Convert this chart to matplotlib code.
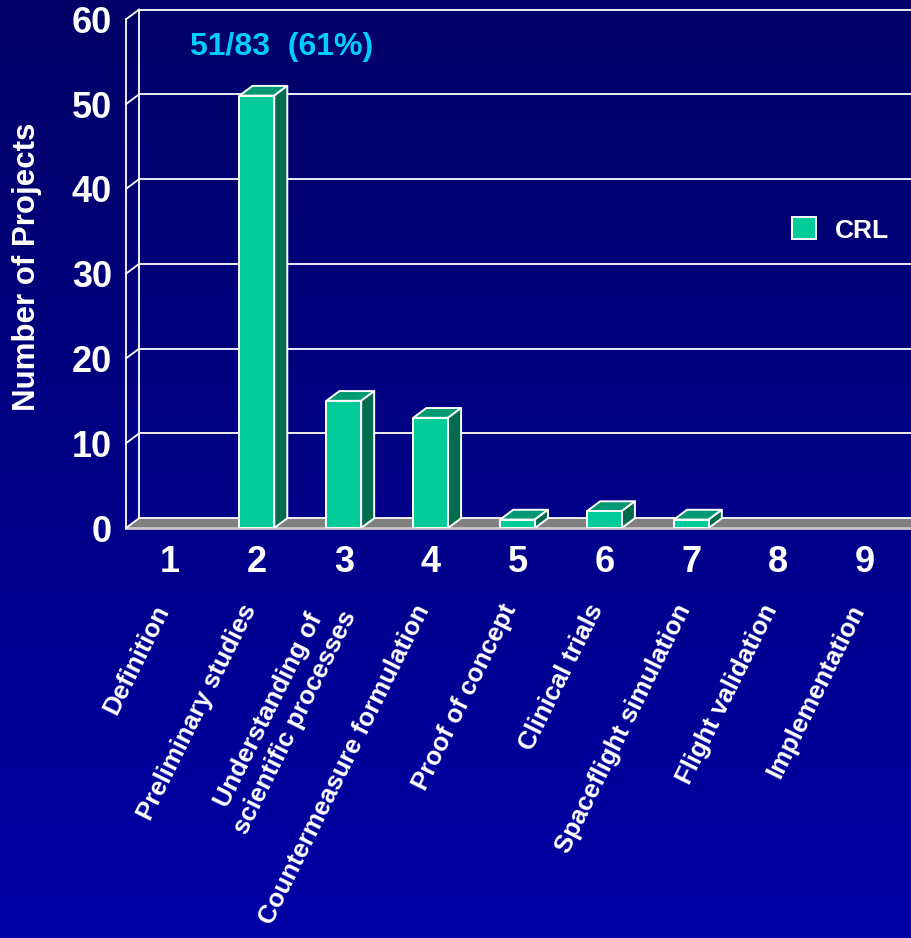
import matplotlib
matplotlib.use("Agg")

import matplotlib.pyplot as plt
import matplotlib.transforms as mtransforms
from matplotlib.patches import Polygon, Patch
import numpy as np

plt.rcParams['font.family'] = ['Liberation Sans', 'DejaVu Sans']
plt.rcParams['font.weight'] = 'bold'

# project counts per readiness level
levels = [1, 2, 3, 4, 5, 6, 7, 8, 9]
counts = [0, 51, 15, 13, 1, 2, 1, 0, 0]
level_names = ["Definition", "Preliminary studies",
               "Understanding of\nscientific processes",
               "Countermeasure formulation", "Proof of concept",
               "Clinical trials", "Spaceflight simulation",
               "Flight validation", "Implementation"]
yticks = [0, 10, 20, 30, 40, 50, 60]
note = "51/83  (61%)"
series = "CRL"

FRONT = "#00CC99"
TOP = "#009973"
SIDE = "#006B4D"
W, H = 911, 938

fig = plt.figure(figsize=(W / 100, H / 100), dpi=100)

# background gradient, dark navy at the top fading to brighter blue
bg = fig.add_axes([0, 0, 1, 1], zorder=-10)
grad = np.linspace(0, 1, 256).reshape(-1, 1)
cols = np.zeros((256, 1, 3))
cols[..., 2] = 0.40 + 0.25 * grad
bg.imshow(cols, aspect="auto", extent=[0, 1, 0, 1], origin="upper")
bg.axis("off")

ax = fig.add_axes([126 / W, (H - 528) / H, (W - 126) / W, 518 / H])
ax.patch.set_alpha(0)
x0, x1 = 0.494, 9.527
ax.set_xlim(x0, x1)
ax.set_ylim(0, 61.1)
for s in ax.spines.values():
    s.set_visible(False)

dx, dy = 0.15, 1.15   # depth offset of the 3d walls and bars
bw = 0.40

# floor
ax.add_patch(Polygon([(x0, 0), (x1, 0), (x1 + dx, dy), (x0 + dx, dy)],
                     closed=True, facecolor="#808080", edgecolor="none",
                     zorder=1, clip_on=False))
ax.plot([x0, x1], [0, 0], color="#C8C8C8", lw=2, zorder=2, clip_on=False)

# walls and gridlines
ax.plot([x0, x0], [0, 60], color="white", lw=1.3, zorder=2, clip_on=False)
ax.plot([x0 + dx, x0 + dx], [dy, 60 + dy], color="white", lw=1.3, zorder=2,
        clip_on=False)
for v in yticks:
    ax.plot([x0, x0 + dx], [v, v + dy], color="white", lw=1.3, zorder=2,
            clip_on=False)
    ax.plot([x0 + dx, x1], [v + dy, v + dy], color="white", lw=1.3, zorder=2,
            clip_on=False)

# 3d bars
for c, v in zip(levels, counts):
    if v == 0:
        continue
    l, r = c - bw / 2, c + bw / 2
    kw = dict(closed=True, edgecolor="white", lw=1.4, zorder=3,
              joinstyle="round")
    ax.add_patch(Polygon([(l, v), (r, v), (r + dx, v + dy), (l + dx, v + dy)],
                         facecolor=TOP, **kw))
    ax.add_patch(Polygon([(r, 0), (r + dx, dy), (r + dx, v + dy), (r, v)],
                         facecolor=SIDE, **kw))
    ax.add_patch(Polygon([(l, 0), (r, 0), (r, v), (l, v)],
                         facecolor=FRONT, **kw))

ax.set_yticks(yticks)
ax.set_yticklabels([str(t) for t in yticks])
ax.set_xticks(levels)
ax.set_xticklabels([str(c) for c in levels])
ax.tick_params(axis="y", length=0, pad=10, labelsize=26, labelcolor="white")
ax.tick_params(axis="x", length=0, pad=12, labelsize=26, labelcolor="white")

# slanted stage names under the level numbers
tr = mtransforms.blended_transform_factory(ax.transData, fig.transFigure)
for c, name in zip(levels, level_names):
    ax.text(c - 0.08, 1 - 606 / H, name, transform=tr, rotation=63.5,
            rotation_mode="anchor", ha="right", va="center",
            multialignment="center", fontsize=18.5, color="white",
            linespacing=1.25)

ax.text(2.28, 56.7, note, ha="center", va="center", fontsize=23,
        color="#00CCFF")

fig.text(27 / W, 1 - 267 / H, "Number of Projects", rotation=90,
         ha="center", va="center", fontsize=22.5, color="white")

leg = ax.legend(handles=[Patch(facecolor=FRONT, edgecolor="white", lw=1.4,
                               label=series)],
                loc="center left", bbox_to_anchor=(779 / W, 1 - 230 / H),
                bbox_transform=fig.transFigure, frameon=False, borderpad=0,
                handlelength=0.9, handleheight=0.9, handletextpad=0.7,
                fontsize=19)
for t in leg.get_texts():
    t.set_color("white")

fig.savefig("out.png", dpi=100)
